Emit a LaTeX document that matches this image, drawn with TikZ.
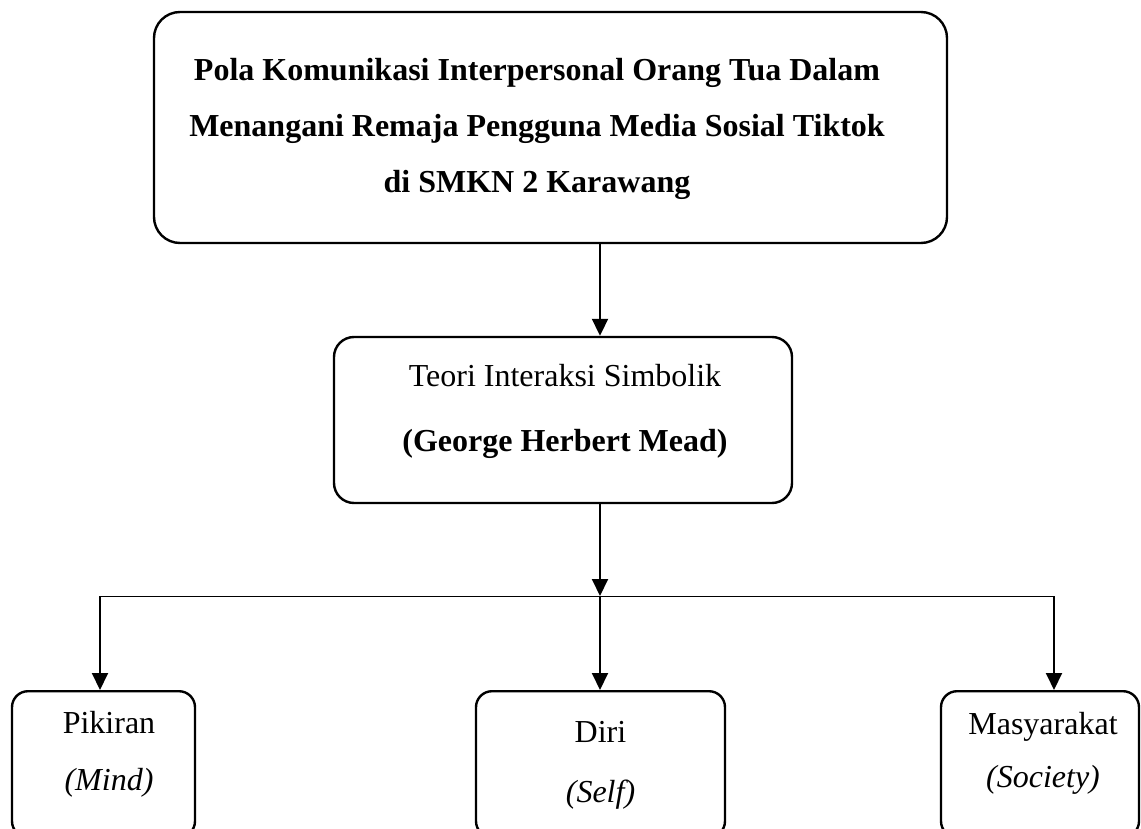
\documentclass[tikz,border=0pt]{standalone}
\usepackage{fontspec}
\setmainfont{Liberation Serif}
\usetikzlibrary{arrows.meta}
\tikzset{
	kotak/.style = {
		rectangle,
		draw=black,
		line width=1.2pt,
		inner sep=0pt
	},
	kotak_judul/.style = {
		kotak,
		rounded corners=13pt,
		minimum width=396.5pt,
		minimum height=115.5pt
	},
	kotak_teori/.style = {
		kotak,
		rounded corners=10pt,
		minimum width=229pt,
		minimum height=83pt
	},
	kotak_konsep/.style = {
		kotak,
		rounded corners=8pt,
		anchor=north,
		minimum height=73pt
	},
	teks/.style = {
		align=center,
		inner sep=0pt,
		font=\fontsize{16}{28}\selectfont
	},
	panah/.style = {
		->,
		line width=1pt
	},
	garis/.style = {
		line width=0.5pt
	},
}

\begin{document}
\begin{tikzpicture}[x=0.5pt, y=-0.5pt, >={Triangle[length=8.5pt,width=8pt]}]
\useasboundingbox (0,0) rectangle (1141,829);
\clip (0,0) rectangle (1141,829);
% kotak
\node [kotak_judul] (judul) at (550.5,127.5) {};
\node [kotak_teori] (teori) at (563,420) {};
\node [kotak_konsep, minimum width=91.5pt] (pikiran) at (103.5,690) {};
\node [kotak_konsep, minimum width=124.5pt] (diri) at (600.5,690) {};
\node [kotak_konsep, minimum width=99pt] (masyarakat) at (1040,690) {};
% teks
\node [teks, font=\fontsize{16}{28}\selectfont\bfseries] (judul_teks) at (537,129) {Pola Komunikasi Interpersonal Orang Tua Dalam\\Menangani Remaja Pengguna Media Sosial Tiktok\\di SMKN 2 Karawang};
\node [teks] (teori_teks) at (565,411) {Teori Interaksi Simbolik\\[4.5pt]\textbf{(George Herbert Mead)}};
\node [teks] (pikiran_teks) at (109,754) {Pikiran\\[0.5pt]\textit{(Mind)}};
\node [teks] (diri_teks) at (600.5,765) {Diri\\[2pt]\textit{(Self)}};
\node [teks] (masyarakat_teks) at (1043,753) {Masyarakat\\[-1.5pt]\textit{(Society)}};
% panah
\coordinate (cabang) at (600,596);
\coordinate (cabang_kiri) at (100,596);
\coordinate (cabang_kanan) at (1054,596);
\draw [panah] (judul.south -| cabang) -- (teori.north -| cabang);
\draw [panah] (teori.south -| cabang) -- (cabang);
\draw [garis] (cabang_kiri) -- (cabang_kanan);
\draw [panah] (cabang_kiri) -- (pikiran.north -| cabang_kiri);
\draw [panah] (cabang) -- (diri.north -| cabang);
\draw [panah] (cabang_kanan) -- (masyarakat.north -| cabang_kanan);
\end{tikzpicture}
\end{document}
